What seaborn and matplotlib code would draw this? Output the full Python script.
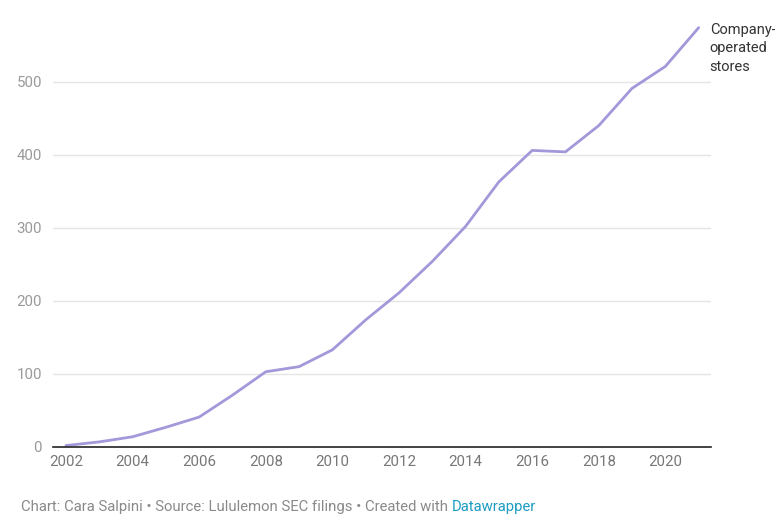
import numpy as np
import pandas as pd
import seaborn as sns
import matplotlib.pyplot as plt

years = [2002, 2003, 2004, 2005, 2006, 2007, 2008, 2009, 2010, 2011,
         2012, 2013, 2014, 2015, 2016, 2017, 2018, 2019, 2020, 2021]
stores = [2, 7, 14, 27, 41, 71, 103, 110, 133, 174,
          211, 254, 302, 363, 406, 404, 440, 491, 521, 574]
y_ticks = [0, 100, 200, 300, 400, 500]
x_ticks = [2002, 2004, 2006, 2008, 2010, 2012, 2014, 2016, 2018, 2020]

df = pd.DataFrame({'year': years, 'stores': stores})

sns.set_theme(style='white')
plt.rcParams['font.family'] = ['Roboto', 'DejaVu Sans']

fig = plt.figure(figsize=(7.75, 5.27), dpi=100)
ax = fig.add_axes([53/775, 1-447/527, (711-53)/775, (447-16)/527])

sns.lineplot(data=df, x='year', y='stores', ax=ax, color='#a298da', linewidth=2)

ax.set_xlim(2001.61, 2021.37)
ax.set_ylim(0, 590)
ax.set_yticks(y_ticks)
ax.set_xticks(x_ticks)
ax.set_xlabel('')
ax.set_ylabel('')

for v in y_ticks[1:]:
    ax.axhline(v, color='#e5e5e5', linewidth=1, zorder=0)

for s in ['top', 'right', 'left']:
    ax.spines[s].set_visible(False)
ax.spines['bottom'].set_color('#222222')
ax.spines['bottom'].set_linewidth(1.2)

ax.tick_params(axis='y', length=0, pad=8, labelsize=10.8, labelcolor='#9a9a9a')
ax.tick_params(axis='x', length=0, pad=6, labelsize=10.8, labelcolor='#777777')

ax.text(2021.33, 581, 'Company-\noperated\nstores', fontsize=10.5, color='#333333',
        va='top', ha='left', linespacing=1.42, clip_on=False)

t1 = fig.text(21/775, 1-507/527, 'Chart: Cara Salpini \u2022 Source: Lululemon SEC filings \u2022 Created with ',
              fontsize=10.7, color='#8a8a8a', va='center', ha='left')
fig.canvas.draw()
bb = t1.get_window_extent()
fig.text(bb.x1/775, 1-507/527, 'Datawrapper', fontsize=10.7, color='#1c9cc2', va='center', ha='left')

fig.savefig('out.png', dpi=100)
